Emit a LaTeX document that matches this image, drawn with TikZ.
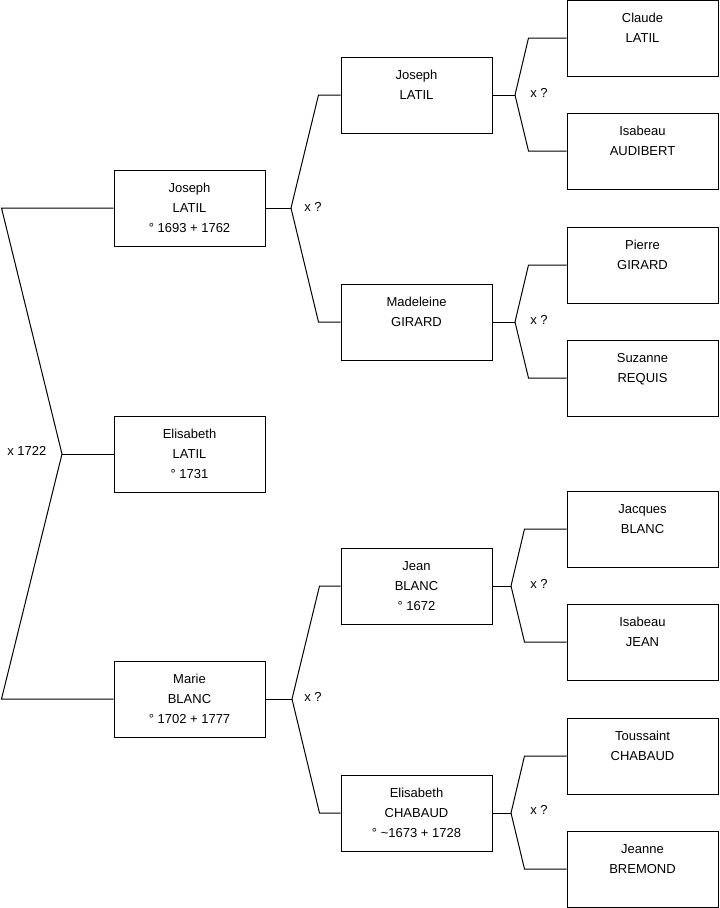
\documentclass[tikz,border=0pt]{standalone}
\usepackage{fontspec}
\setmainfont{Liberation Sans}

\tikzset{
  osoba/.style={draw, line width=0.75pt, minimum width=113.25pt, minimum height=57pt,
    align=center, inner sep=0pt, font=\fontsize{9.75}{15}\selectfont},
  svatba/.style={anchor=west, inner sep=0pt, font=\fontsize{9.75}{15}\selectfont},
  vetev/.style={line width=0.75pt}
}

\begin{document}
\begin{tikzpicture}[x=0.75pt,y=-0.75pt]
        \useasboundingbox (0,0) rectangle (719,908);

        % osoby
        \node[osoba] (eli) at (189.5,454) {Elisabeth\\LATIL\\° 1731};
        \node[osoba] (jos1) at (189.5,208) {Joseph\\LATIL\\° 1693 + 1762};
        \node[osoba] (mar) at (189.5,699) {Marie\\BLANC\\° 1702 + 1777};

        \node[osoba] (jos2) at (416.5,95) {Joseph\\LATIL\\\mbox{}};
        \node[osoba] (mad) at (416.5,322) {Madeleine\\GIRARD\\\mbox{}};
        \node[osoba] (jea) at (416.5,586) {Jean\\BLANC\\° 1672};
        \node[osoba] (elc) at (416.5,813) {Elisabeth\\CHABAUD\\° \textasciitilde1673 + 1728};

        \node[osoba] (cla) at (642.5,38) {Claude\\LATIL\\\mbox{}};
        \node[osoba] (isa) at (642.5,151) {Isabeau\\AUDIBERT\\\mbox{}};
        \node[osoba] (pie) at (642.5,265) {Pierre\\GIRARD\\\mbox{}};
        \node[osoba] (suz) at (642.5,378) {Suzanne\\REQUIS\\\mbox{}};
        \node[osoba] (jac) at (642.5,529) {Jacques\\BLANC\\\mbox{}};
        \node[osoba] (isj) at (642.5,642) {Isabeau\\JEAN\\\mbox{}};
        \node[osoba] (tou) at (642.5,756) {Toussaint\\CHABAUD\\\mbox{}};
        \node[osoba] (jen) at (642.5,869) {Jeanne\\BREMOND\\\mbox{}};

        % svatby
        \coordinate (s0) at (62,454);
        \coordinate (s1) at (291,208);
        \coordinate (s2) at (292,699);
        \coordinate (s3) at (515,95);
        \coordinate (s4) at (515,322);
        \coordinate (s5) at (511,586);
        \coordinate (s6) at (511,813);

        \node[svatba] (t0) at (7,451) {x 1722};
        \node[svatba] (t1) at (304,207) {x ?};
        \node[svatba] (t2) at (304,697) {x ?};
        \node[svatba] (t3) at (530,93) {x ?};
        \node[svatba] (t4) at (530,320) {x ?};
        \node[svatba] (t5) at (530,584) {x ?};
        \node[svatba] (t6) at (530,810) {x ?};

        % vetve
        \draw[vetev] (eli.west) -- (s0);
        \draw[vetev] (jos1.west) -- ++(-112,0) -- (s0);
        \draw[vetev] (mar.west) -- ++(-112,0) -- (s0);

        \draw[vetev] (jos1.east) -- (s1);
        \draw[vetev] (jos2.west) -- ++(-22,0) -- (s1);
        \draw[vetev] (mad.west) -- ++(-22,0) -- (s1);

        \draw[vetev] (mar.east) -- (s2);
        \draw[vetev] (jea.west) -- ++(-21,0) -- (s2);
        \draw[vetev] (elc.west) -- ++(-21,0) -- (s2);

        \draw[vetev] (jos2.east) -- (s3);
        \draw[vetev] (cla.west) -- ++(-38,0) -- (s3);
        \draw[vetev] (isa.west) -- ++(-38,0) -- (s3);

        \draw[vetev] (mad.east) -- (s4);
        \draw[vetev] (pie.west) -- ++(-38,0) -- (s4);
        \draw[vetev] (suz.west) -- ++(-38,0) -- (s4);

        \draw[vetev] (jea.east) -- (s5);
        \draw[vetev] (jac.west) -- ++(-42,0) -- (s5);
        \draw[vetev] (isj.west) -- ++(-42,0) -- (s5);

        \draw[vetev] (elc.east) -- (s6);
        \draw[vetev] (tou.west) -- ++(-42,0) -- (s6);
        \draw[vetev] (jen.west) -- ++(-42,0) -- (s6);
    \end{tikzpicture}
\end{document}
